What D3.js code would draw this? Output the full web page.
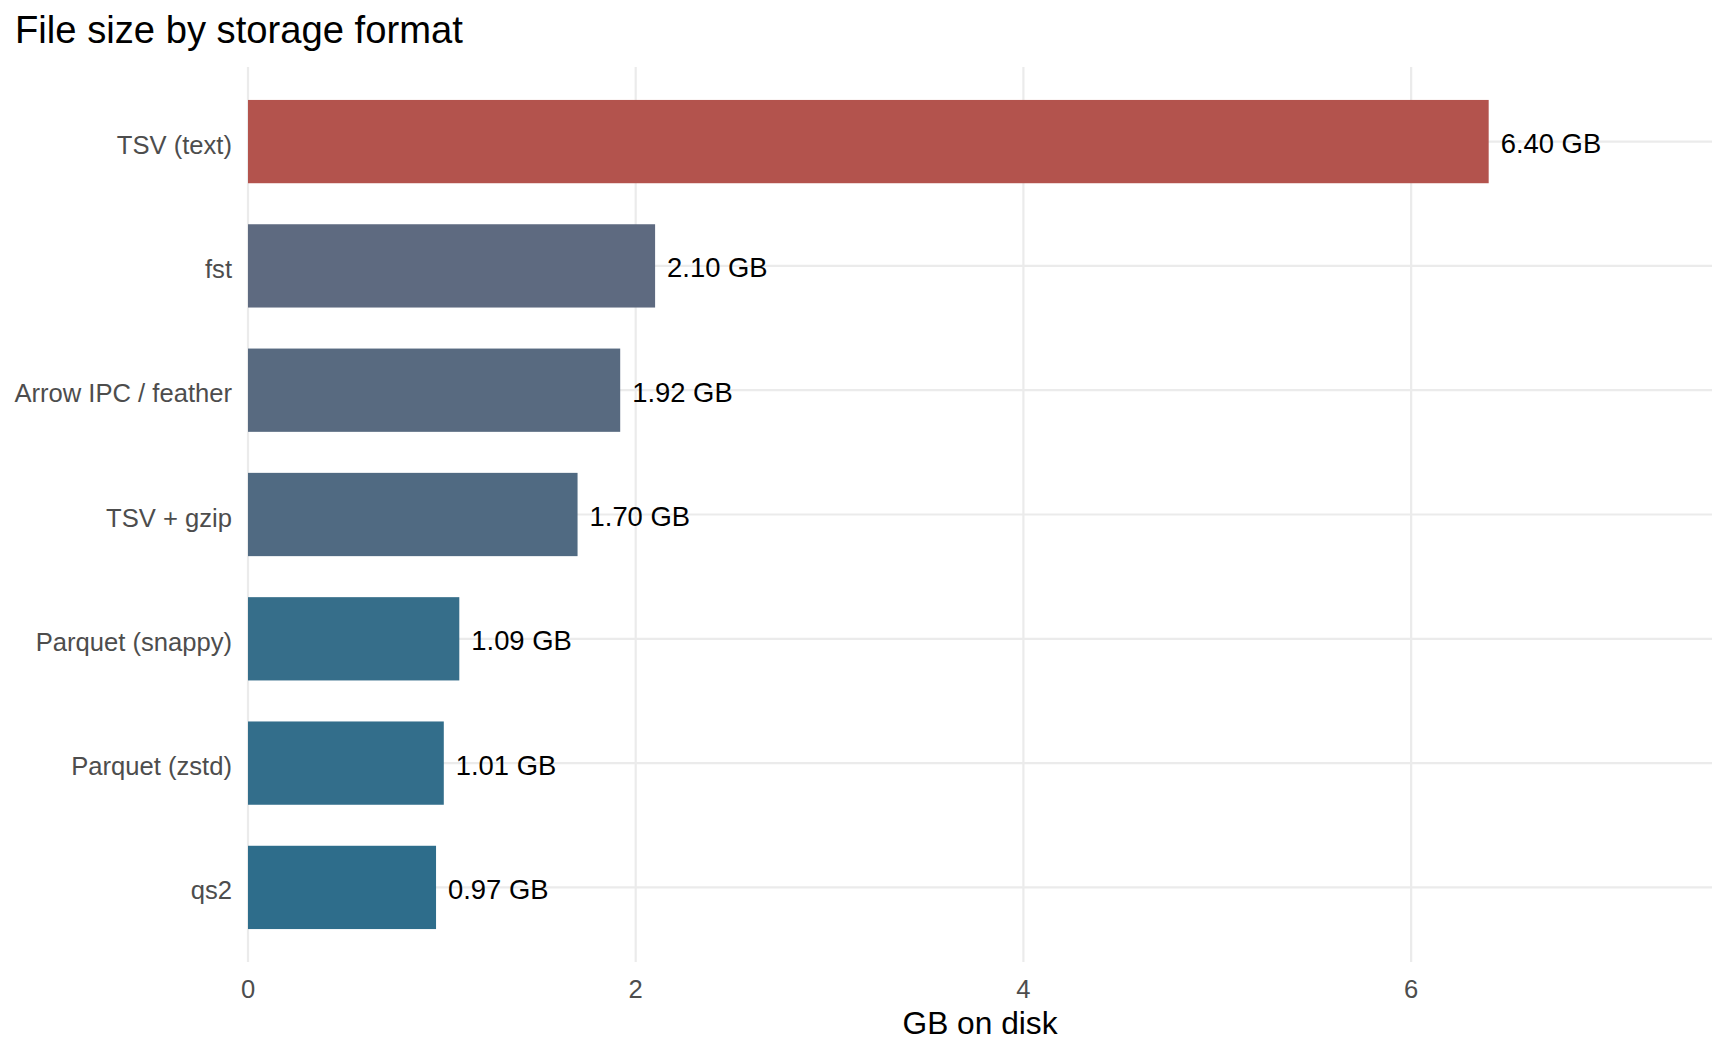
<!DOCTYPE html>
<html>
<head>
<meta charset="utf-8">
<script src="https://cdn.jsdelivr.net/npm/d3@7"></script>
<style>
  body { margin: 0; background: #fff; }
  svg { display: block; font-family: "Liberation Sans", Arial, sans-serif; }
</style>
</head>
<body>
<svg id="chart"></svg>
<script>
const formats = [
  "TSV (text)",
  "fst",
  "Arrow IPC / feather",
  "TSV + gzip",
  "Parquet (snappy)",
  "Parquet (zstd)",
  "qs2",
];
const sizesGB = [6.4, 2.1, 1.92, 1.7, 1.09, 1.01, 0.97];
const barColors = [
  "#b3534d",
  "#5e6a80",
  "#586a80",
  "#506a82",
  "#366e8a",
  "#336e8b",
  "#2e6d8b",
];
const xTicks = [0, 2, 4, 6];

const W = 1728;
const H = 1056;
const panel = { left: 248, right: 1712, top: 67, bottom: 962 };

const svg = d3.select("#chart").attr("width", W).attr("height", H);

const data = formats.map((f, i) => ({ format: f, size: sizesGB[i], color: barColors[i] }));

// x: bars start at 0, 18% headroom on the right for labels
const x = d3
  .scaleLinear()
  .domain([0, d3.max(sizesGB) * 1.18])
  .range([panel.left, panel.right]);

const y = d3
  .scalePoint()
  .domain(formats)
  .range([panel.top, panel.bottom])
  .padding(0.6);

const barH = y.step() * 0.67;

// Grid
const grid = svg.append("g");
grid
  .selectAll("line.vx")
  .data(xTicks)
  .join("line")
  .attr("x1", (d) => x(d))
  .attr("x2", (d) => x(d))
  .attr("y1", panel.top)
  .attr("y2", panel.bottom)
  .attr("stroke", "#ebebeb")
  .attr("stroke-width", 2.2);

grid
  .selectAll("line.hy")
  .data(formats)
  .join("line")
  .attr("x1", panel.left)
  .attr("x2", panel.right)
  .attr("y1", (d) => y(d))
  .attr("y2", (d) => y(d))
  .attr("stroke", "#ebebeb")
  .attr("stroke-width", 2.2);

// Bars
svg
  .append("g")
  .selectAll("rect")
  .data(data)
  .join("rect")
  .attr("x", x(0))
  .attr("y", (d) => y(d.format) - barH / 2)
  .attr("width", (d) => x(d.size) - x(0))
  .attr("height", barH)
  .attr("fill", (d) => d.color);

// Value labels
svg
  .append("g")
  .selectAll("text")
  .data(data)
  .join("text")
  .attr("x", (d) => x(d.size) + 12)
  .attr("y", (d) => y(d.format) + 2)
  .attr("dominant-baseline", "central")
  .attr("font-size", 27.4)
  .attr("fill", "#000")
  .text((d) => `${d.size.toFixed(2)} GB`);

// Y axis (category labels)
svg
  .append("g")
  .selectAll("text")
  .data(formats)
  .join("text")
  .attr("x", 232)
  .attr("y", (d) => y(d) + 3)
  .attr("text-anchor", "end")
  .attr("dominant-baseline", "central")
  .attr("font-size", 25.6)
  .attr("fill", "#4d4d4d")
  .text((d) => d);

// X axis tick labels
svg
  .append("g")
  .selectAll("text")
  .data(xTicks)
  .join("text")
  .attr("x", (d) => x(d))
  .attr("y", 998)
  .attr("text-anchor", "middle")
  .attr("font-size", 25.6)
  .attr("fill", "#4d4d4d")
  .text((d) => d);

// Axis title
svg
  .append("text")
  .attr("x", (panel.left + panel.right) / 2)
  .attr("y", 1034)
  .attr("text-anchor", "middle")
  .attr("font-size", 31.7)
  .attr("fill", "#000")
  .text("GB on disk");

// Title
svg
  .append("text")
  .attr("x", 15)
  .attr("y", 43)
  .attr("font-size", 38.2)
  .attr("fill", "#000")
  .text("File size by storage format");
</script>
</body>
</html>
